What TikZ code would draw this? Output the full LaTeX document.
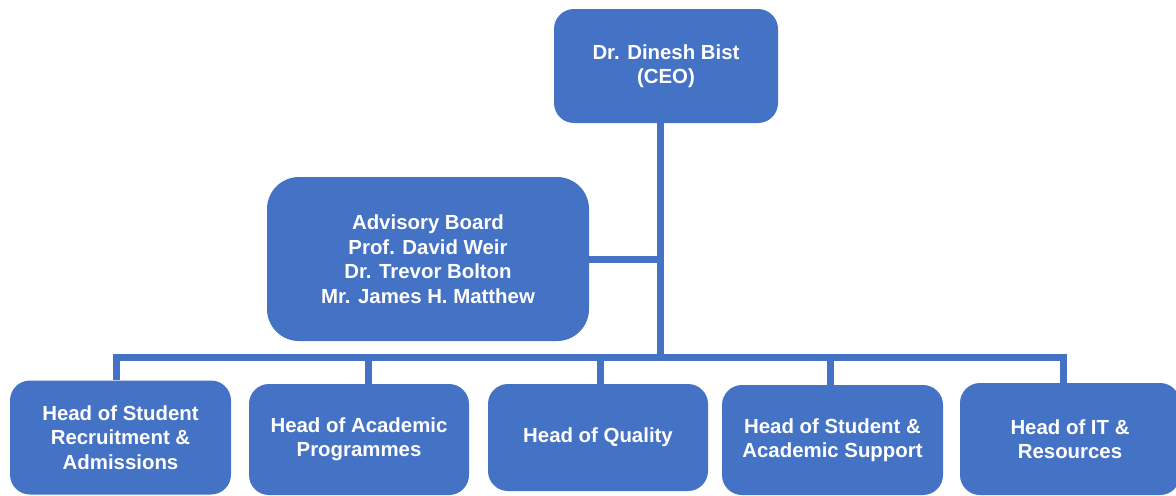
\documentclass[tikz,border=0pt]{standalone}
\usepackage{fontspec}
\setmainfont{Liberation Sans}
\definecolor{officeblue}{HTML}{4472C4}
\begin{document}
\begin{tikzpicture}[x=0.5pt,y=-0.5pt]

	\tikzset{
	  box/.style={
		fill=officeblue,
		draw=none,
		text=white,
		align=center,
		inner sep=0pt,
		rounded corners=10pt,
		font=\bfseries\fontsize{10.2}{12.25}\selectfont,
	  },
	  link/.style={
		draw=officeblue,
		line width=3.5pt,
	  },
	}
	\useasboundingbox (0,0) rectangle (1176,495);

	% top
	\node[box,minimum width=112pt,minimum height=57pt] (ceo) at (666,66) {Dr. Dinesh Bist\\(CEO)};
	\node[box,minimum width=161pt,minimum height=82pt,rounded corners=16pt] (adv) at (428,259) {Advisory Board\\Prof. David Weir\\Dr. Trevor Bolton\\Mr. James H. Matthew};

	% heads
	\node[box,minimum width=110.5pt,minimum height=57pt] (h1) at (120.5,437.5) {Head of Student\\Recruitment \&\\Admissions};
	\node[box,minimum width=110pt,minimum height=55.5pt] (h2) at (359,439.5) {Head of Academic\\Programmes};
	\node[box,minimum width=110pt,minimum height=53.5pt] (h3) at (598,437.5) {Head of Quality};
	\node[box,minimum width=110.5pt,minimum height=55pt] (h4) at (832.5,440) {Head of Student \&\\Academic Support};
	\node[box,minimum width=110pt,minimum height=56pt] (h5) at (1070,439) {Head of IT \&\\Resources};

	% links
	\coordinate (bar) at (660,357);
	\draw[link] (ceo.south -| bar) -- (bar);
	\draw[link] (adv.east) -- (adv.east -| bar);
	\draw[link] ([xshift=-2pt]h1.north) |- (bar) -| ([xshift=-3.5pt]h5.north);
	\draw[link] ([xshift=4.5pt]h2.north) -- ([xshift=4.5pt]h2.north |- bar);
	\draw[link] ([xshift=1pt]h3.north) -- ([xshift=1pt]h3.north |- bar);
	\draw[link] ([xshift=-1.25pt]h4.north) -- ([xshift=-1.25pt]h4.north |- bar);

\end{tikzpicture}
\end{document}
